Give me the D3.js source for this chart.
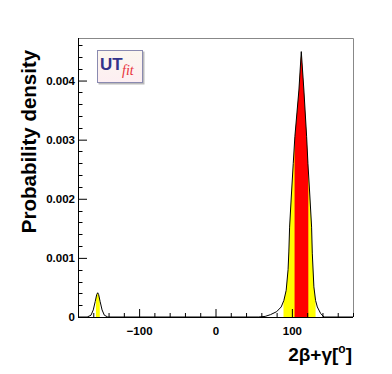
<!DOCTYPE html>
<html>
<head>
<meta charset="utf-8">
<script src="https://cdn.jsdelivr.net/npm/d3@7"></script>
<style>
  body { margin: 0; background: #fff; }
  svg { display: block; font-family: "Liberation Sans", Arial, Helvetica, sans-serif; }
</style>
</head>
<body>
<div id="chart"></div>
<script>
// curve (angle in degrees, probability density)
const curveX = [-180, -168, -163, -160, -157.5, -155.5, -154.2, -153, -151, -148.5, -145.5, -141,
  56, 65, 72, 80, 86, 89.5, 92.5, 95, 96, 97, 99.2, 101.8, 103.9, 109.2, 112.3,
  115.7, 119.3, 121, 123.6, 125.8, 126.7, 128.8, 131, 133.3, 137.6, 142, 180];
const curveY = [0, 0, 0.00003, 0.00012, 0.00026, 0.00038, 0.00041, 0.00038, 0.00026, 0.00012, 0.00003, 0,
  0, 0.00001, 0.00004, 0.00009, 0.00017, 0.00028, 0.00045, 0.0008, 0.0011, 0.00152, 0.00203, 0.0026, 0.00305, 0.00384, 0.00449,
  0.00384, 0.00305, 0.0026, 0.00203, 0.00152, 0.00108, 0.00051, 0.00028, 0.00017, 0.00006, 0, 0];

// probability intervals
const yellowRanges = [[-156.5, -151.5], [89, 131]];
const redRanges = [[103.5, 121.5]];

const xTicks = [-100, 0, 100];
const yTicks = [0, 0.001, 0.002, 0.003, 0.004];
const xTitle = '2\u03b2+\u03b3[';
const yTitle = 'Probability density';

const width = 392, height = 374;
const frame = {left: 78, top: 38, right: 353, bottom: 317};

const svg = d3.select('#chart').append('svg')
  .attr('width', width)
  .attr('height', height);

const x = d3.scaleLinear().domain([-180, 180]).range([frame.left, frame.right]);
const y = d3.scaleLinear().domain([0, 0.00472]).range([frame.bottom, frame.top]);

const points = curveX.map((v, i) => [v, curveY[i]]);

// clip paths for the coloured intervals
const defs = svg.append('defs');
function addClip(id, ranges) {
  const cp = defs.append('clipPath').attr('id', id);
  ranges.forEach(r => {
    cp.append('rect')
      .attr('x', x(r[0]))
      .attr('y', frame.top)
      .attr('width', x(r[1]) - x(r[0]))
      .attr('height', frame.bottom - frame.top);
  });
}
addClip('clip-yellow', yellowRanges);
addClip('clip-red', redRanges);

const area = d3.area()
  .x(d => x(d[0]))
  .y0(y(0))
  .y1(d => y(d[1]));
const line = d3.line()
  .x(d => x(d[0]))
  .y(d => y(d[1]));

svg.append('path')
  .attr('d', area(points))
  .attr('fill', '#ffff00')
  .attr('clip-path', 'url(#clip-yellow)');
svg.append('path')
  .attr('d', area(points))
  .attr('fill', '#ff0000')
  .attr('clip-path', 'url(#clip-red)');
svg.append('path')
  .attr('d', line(points))
  .attr('fill', 'none')
  .attr('stroke', '#000')
  .attr('stroke-width', 1);

// frame (top / right in grey)
svg.append('path')
  .attr('d', `M${frame.left},${frame.top + 0.5}H${frame.right + 0.5}V${frame.bottom}`)
  .attr('fill', 'none')
  .attr('stroke', '#888')
  .attr('stroke-width', 1);

// x axis
const xAxis = d3.axisBottom(x)
  .tickValues(xTicks)
  .tickSize(-8)
  .tickPadding(5)
  .tickFormat(d3.format('d'));
const gx = svg.append('g')
  .attr('transform', `translate(0,${frame.bottom})`)
  .call(xAxis);
gx.select('.domain').attr('d', `M${frame.left},0.5H${frame.right}`);
gx.selectAll('.tick text')
  .attr('dy', '1.05em')
  .attr('y', 6)
  .style('font-size', '11.5px')
  .style('font-weight', 'bold')
  .style('font-family', '"Liberation Sans", Arial, sans-serif');
const xMinor = d3.range(-180, 181, 20).filter(v => !xTicks.includes(v));
gx.selectAll('.minor').data(xMinor).enter().append('line')
  .attr('x1', d => x(d) + 0.5).attr('x2', d => x(d) + 0.5)
  .attr('y1', 0).attr('y2', -4)
  .attr('stroke', '#000');

// y axis
const yAxis = d3.axisLeft(y)
  .tickValues(yTicks)
  .tickSize(-9)
  .tickPadding(13)
  .tickFormat(d => d === 0 ? '0' : d3.format('.3f')(d));
const gy = svg.append('g')
  .attr('transform', `translate(${frame.left},0)`)
  .call(yAxis);
gy.select('.domain').attr('d', `M0.5,${frame.top}V${frame.bottom}`);
gy.selectAll('.tick text')
  .attr('x', -3)
  .style('font-size', '11.5px')
  .style('font-weight', 'bold')
  .style('font-family', '"Liberation Sans", Arial, sans-serif');
const yMinor = d3.range(0, 0.0047, 0.0002).filter(v => !yTicks.some(t => Math.abs(t - v) < 1e-9));
gy.selectAll('.minor').data(yMinor).enter().append('line')
  .attr('y1', d => Math.round(y(d)) + 0.5).attr('y2', d => Math.round(y(d)) + 0.5)
  .attr('x1', 0).attr('x2', 4.5)
  .attr('stroke', '#000');

// axis titles
svg.append('text')
  .attr('transform', `translate(36,${(frame.top + frame.bottom) / 2 - 36}) rotate(-90)`)
  .attr('text-anchor', 'middle')
  .style('font-size', '20.5px')
  .style('font-weight', 'bold')
  .text(yTitle);

const xt = svg.append('text')
  .attr('x', frame.right - 1)
  .attr('y', 361)
  .attr('text-anchor', 'end')
  .style('font-size', '19px')
  .style('font-weight', 'bold');
xt.append('tspan').text(xTitle);
xt.append('tspan').attr('dy', -8).style('font-size', '12px').text('o');
xt.append('tspan').attr('dy', 8).text(']');

// UTfit logo
const logo = svg.append('g').attr('transform', 'translate(97,50)');
const grad = defs.append('linearGradient').attr('id', 'logo-grad')
  .attr('x1', 0).attr('y1', 0).attr('x2', 0).attr('y2', 1);
grad.append('stop').attr('offset', 0).attr('stop-color', '#fbf6ee');
grad.append('stop').attr('offset', 1).attr('stop-color', '#fdeef2');
logo.append('rect')
  .attr('x', 1.5).attr('y', 1.5).attr('width', 46).attr('height', 33)
  .attr('fill', '#bbb');
logo.append('rect')
  .attr('x', 0.5).attr('y', 0.5).attr('width', 45).attr('height', 32)
  .attr('fill', 'url(#logo-grad)')
  .attr('stroke', '#8a8ab0');
logo.append('text')
  .attr('x', 3).attr('y', 20)
  .style('font-size', '17px')
  .style('font-weight', 'bold')
  .attr('fill', '#33338a')
  .text('UT');
logo.append('text')
  .attr('x', 25).attr('y', 25)
  .style('font-size', '14px')
  .style('font-style', 'italic')
  .style('font-family', '"Liberation Serif", "DejaVu Serif", serif')
  .attr('fill', '#e8303a')
  .text('fit');
</script>
</body>
</html>
